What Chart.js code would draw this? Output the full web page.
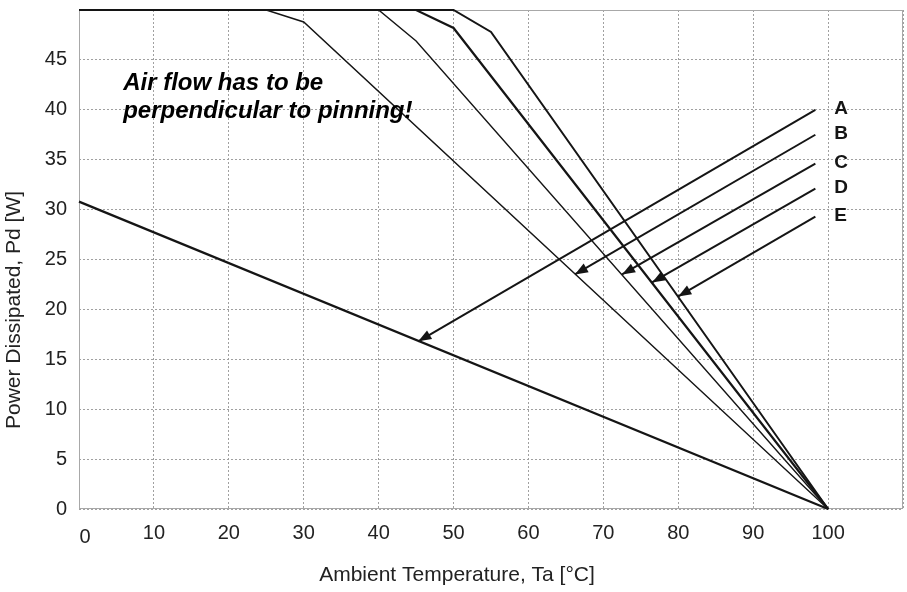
<!DOCTYPE html>
<html>
<head>
<meta charset="utf-8">
<script src="https://cdn.jsdelivr.net/npm/chart.js@4/dist/chart.umd.min.js"></script>
<style>
  html, body { margin: 0; padding: 0; background: #fff; }
  #wrap { width: 907px; height: 592px; position: relative; }
</style>
</head>
<body>
<div id="wrap"><canvas id="chart"></canvas></div>
<script>
// derating curves, power [W] vs ambient temperature [°C]
const curveA = [[0, 30.8], [100, 0]];
const curveB = [[0, 50], [25, 50], [30, 48.8], [100, 0]];
const curveC = [[0, 50], [40, 50], [45, 46.9], [100, 0]];
const curveD = [[0, 50], [45, 50], [50, 48.2], [100, 0]];
const curveE = [[0, 50], [50, 50], [55, 47.8], [100, 0]];

// arrows: from label to curve
const arrowLabels = ['A', 'B', 'C', 'D', 'E'];
const arrowFrom = [[98.3, 40.0], [98.3, 37.5], [98.3, 34.6], [98.3, 32.1], [98.3, 29.3]];
const arrowTo = [[45.3, 16.8], [66.2, 23.5], [72.5, 23.5], [76.5, 22.7], [80.0, 21.3]];

const noteLines = ['Air flow has to be', 'perpendicular to pinning!'];
const noteAt = [5.9, 42.0];

const xTitle = 'Ambient Temperature, Ta [°C]';
const yTitle = 'Power Dissipated, Pd [W]';

const FONT = "'Liberation Sans', Arial, sans-serif";
const INK = '#151515';

const toPts = arr => arr.map(p => ({ x: p[0], y: p[1] }));

const curveSets = [
  { data: toPts(curveA), borderWidth: 2.2 },
  { data: toPts(curveB), borderWidth: 1.4 },
  { data: toPts(curveC), borderWidth: 1.4 },
  { data: toPts(curveD), borderWidth: 2.2 },
  { data: toPts(curveE), borderWidth: 2 }
].map(d => ({ ...d, borderColor: INK, pointRadius: 0, clip: false, isArrow: false }));

const arrowSets = arrowLabels.map((lbl, i) => ({
  label: lbl,
  data: toPts([arrowFrom[i], arrowTo[i]]),
  borderColor: INK,
  borderWidth: 2,
  pointRadius: 0,
  isArrow: true
}));

const extras = {
  id: 'extras',
  beforeDatasetsDraw(chart) {
    // plot frame
    const a = chart.chartArea;
    const c = chart.ctx;
    c.save();
    c.strokeStyle = '#a8a8a8';
    c.lineWidth = 1;
    c.strokeRect(a.left + 0.5, a.top + 0.5, a.right - a.left - 1, a.bottom - a.top - 1);
    c.restore();
  },
  afterDatasetsDraw(chart) {
    const c = chart.ctx;
    const xs = chart.scales.x, ys = chart.scales.y;
    c.save();

    // arrowheads and letters
    chart.data.datasets.forEach((ds, i) => {
      if (!ds.isArrow) return;
      const pts = chart.getDatasetMeta(i).data;
      const p0 = pts[0], p1 = pts[pts.length - 1];
      const ang = Math.atan2(p1.y - p0.y, p1.x - p0.x);
      const len = 13, half = 5;
      c.fillStyle = INK;
      c.beginPath();
      c.moveTo(p1.x, p1.y);
      c.lineTo(p1.x - len * Math.cos(ang) + half * Math.sin(ang), p1.y - len * Math.sin(ang) - half * Math.cos(ang));
      c.lineTo(p1.x - len * Math.cos(ang) - half * Math.sin(ang), p1.y - len * Math.sin(ang) + half * Math.cos(ang));
      c.closePath();
      c.fill();

      c.font = 'bold 19px ' + FONT;
      c.textAlign = 'left';
      c.textBaseline = 'middle';
      c.fillText(ds.label, p0.x + 19, p0.y - 1);
    });

    // note
    c.font = 'italic bold 24px ' + FONT;
    c.fillStyle = '#000';
    c.textAlign = 'left';
    c.textBaseline = 'alphabetic';
    const nx = xs.getPixelForValue(noteAt[0]);
    const ny = ys.getPixelForValue(noteAt[1]);
    noteLines.forEach((t, k) => c.fillText(t, nx, ny + k * 28));

    // the lone "0" tick sits a little off
    c.font = '20px ' + FONT;
    c.fillStyle = '#222';
    c.textAlign = 'center';
    c.textBaseline = 'middle';
    c.fillText('0', xs.getPixelForValue(0) + 6, ys.bottom + 28);

    // axis titles
    c.font = '21px ' + FONT;
    c.fillText(xTitle, 457, 575);
    c.translate(14, 310);
    c.rotate(-Math.PI / 2);
    c.fillText(yTitle, 0, 0);
    c.restore();
  }
};

new Chart(document.getElementById('chart'), {
  type: 'line',
  data: { datasets: [...curveSets, ...arrowSets] },
  options: {
    responsive: true,
    maintainAspectRatio: false,
    animation: false,
    layout: { padding: { top: 10, right: 4, left: 0, bottom: 0 } },
    plugins: { legend: { display: false }, tooltip: { enabled: false } },
    elements: { line: { tension: 0 } },
    scales: {
      x: {
        type: 'linear',
        min: 0, max: 110,
        afterFit: s => { s.height = 83; s.paddingLeft = 0; s.paddingRight = 0; },
        border: { display: false, dash: [2, 2] },
        grid: { color: '#a0a0a0', drawTicks: false, lineWidth: 1 },
        ticks: {
          stepSize: 10, padding: 12, color: '#222',
          font: { family: FONT, size: 20 },
          callback: v => (v === 0 || v === 110) ? '' : v
        }
      },
      y: {
        min: 0, max: 50,
        afterFit: s => { s.width = 79; s.paddingTop = 0; s.paddingBottom = 0; },
        border: { display: false, dash: [2, 2] },
        grid: { color: '#a0a0a0', drawTicks: false, lineWidth: 1 },
        ticks: {
          stepSize: 5, padding: 12, color: '#222',
          font: { family: FONT, size: 20 },
          callback: v => v === 50 ? '' : v
        }
      }
    }
  },
  plugins: [extras]
});
</script>
</body>
</html>
